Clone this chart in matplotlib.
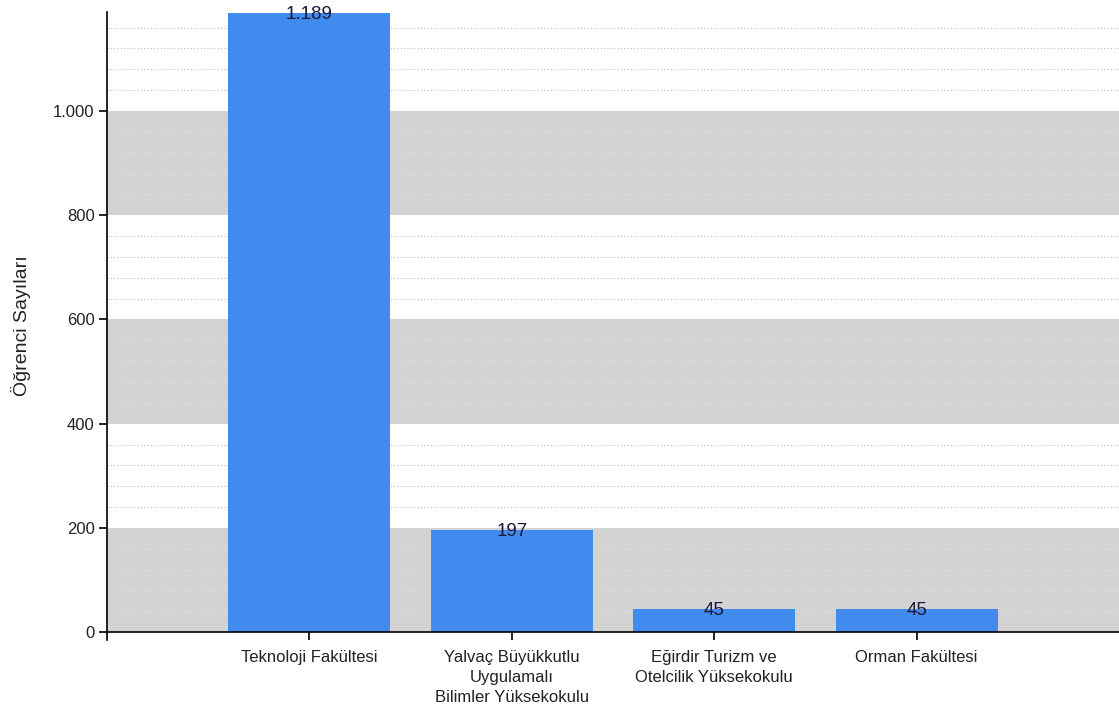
import matplotlib
matplotlib.use("Agg")
import matplotlib.pyplot as plt
import numpy as np

# data
categories = ["Teknoloji Fakültesi",
              "Yalvaç Büyükkutlu\nUygulamalı\nBilimler Yüksekokulu",
              "Eğirdir Turizm ve\nOtelcilik Yüksekokulu",
              "Orman Fakültesi"]
ogrenci = [1189, 197, 45, 45]
value_labels = ["1.189", "197", "45", "45"]
y_ticks = [0, 200, 400, 600, 800, 1000]
y_tick_labels = ["0", "200", "400", "600", "800", "1.000"]

plt.rcParams['font.family'] = ['Liberation Sans', 'DejaVu Sans']

fig = plt.figure(figsize=(11.19, 7.15), dpi=100)
ax = fig.add_axes([107 / 1119, 1 - 640 / 715, 1 - 107 / 1119, (640 - 12) / 715])

x = np.arange(1, len(categories) + 1)

# banded background
for lo in [0, 400, 800]:
    ax.axhspan(lo, lo + 200, color="#d3d3d3", lw=0, zorder=0)
for yy in np.arange(40, 1189, 40):
    if yy % 200 == 0:
        continue
    ax.axhline(yy, color="#bdbdbd" if (yy // 200) % 2 else "#e2e2e2",
               lw=0.8, ls=(0, (1, 2)), zorder=0.5)

ax.bar(x, ogrenci, width=0.8, color="#418aee", zorder=2)
for xi, v, lab in zip(x, ogrenci, value_labels):
    ax.text(xi, v - 4, lab, ha="center", va="center", fontsize=13.5,
            color="#1a1a3a", zorder=3)

ax.set_xlim(0, 5)
ax.set_ylim(-15, 1190)
ax.spines['top'].set_visible(False)
ax.spines['right'].set_visible(False)
ax.spines['bottom'].set_position(('data', 0))
ax.spines['left'].set_linewidth(1.2)
ax.spines['bottom'].set_linewidth(1.2)

ax.set_xticks(x)
ax.set_xticklabels(categories, fontsize=12, color="#222222", linespacing=1.4)
ax.set_yticks(y_ticks)
ax.set_yticklabels(y_tick_labels, fontsize=12, color="#222222")
ax.tick_params(axis='both', length=6, width=1.2)
ax.tick_params(axis='x', pad=7)
ax.tick_params(axis='y', pad=3)
ax.set_ylabel("Öğrenci Sayıları", fontsize=14, color="#222222", labelpad=16)

fig.savefig("out.png", dpi=100)
